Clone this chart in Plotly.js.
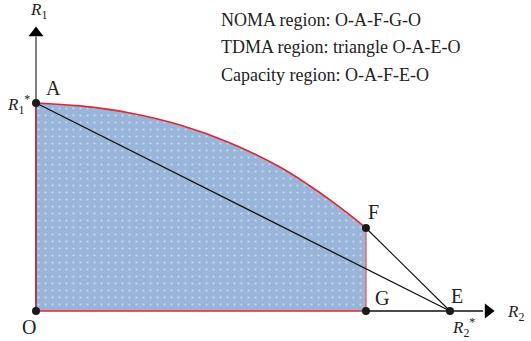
<!DOCTYPE html>
<html>
<head>
<meta charset="utf-8">
<script src="https://cdn.plot.ly/plotly-3.0.1.min.js"></script>
<style>
  html, body { margin: 0; padding: 0; background: #fff; }
  #graph { width: 531px; height: 341px; }
</style>
</head>
<body>
<div id="graph"></div>
<script>
// boundary of the NOMA region (R2, R1), normalised so that A = 1 and E = 1
const curveR2 = [0, 0.106, 0.227, 0.348, 0.469, 0.589, 0.662, 0.710, 0.758, 0.797];
const curveR1 = [1, 0.986, 0.952, 0.894, 0.808, 0.692, 0.601, 0.534, 0.462, 0.399];

// corner points O, A, F, G, E
const pointNames = ["O", "A", "F", "G", "E"];
const pointR2 = [0, 0, 0.797, 0.797, 1];
const pointR1 = [0, 1, 0.399, 0, 0];

const legendLines = [
    "NOMA region: O-A-F-G-O",
    "TDMA region: triangle O-A-E-O",
    "Capacity region: O-A-F-E-O"
];

const serif = "Liberation Serif, Times New Roman, serif";
const idx = n => pointNames.indexOf(n);
const P = n => [pointR2[idx(n)], pointR1[idx(n)]];

function seg(a, b, color, width) {
    return {
        x: [a[0], b[0]], y: [a[1], b[1]],
        mode: "lines", type: "scatter", hoverinfo: "skip",
        line: { color: color, width: width }
    };
}

const data = [];

// región sombreada bajo la curva
data.push({
    x: curveR2, y: curveR1,
    type: "scatter", mode: "lines",
    fill: "tozeroy",
    fillcolor: "#9ab5da",
    fillpattern: { shape: ".", bgcolor: "#9ab5da", fgcolor: "#c9d8ec", size: 7, solidity: 0.08 },
    line: { color: "#e3262e", width: 1.6, shape: "spline", smoothing: 1 },
    hoverinfo: "skip"
});

// ejes con flechas
data.push(seg(P("A"), [0, 1.32], "#555555", 1.5));
data.push(seg(P("G"), [1.08, 0], "#111111", 1.5));
data.push({
    x: [0, 1.092], y: [1.337, 0],
    type: "scatter", mode: "markers", hoverinfo: "skip",
    marker: { symbol: ["triangle-up", "triangle-right"], size: 13, color: "#000" }
});

// bordes rojos de la región
data.push(seg(P("O"), P("A"), "#b53a48", 2));
data.push(seg(P("O"), P("G"), "#e3262e", 1.6));
data.push(seg(P("G"), P("F"), "#ef5a60", 1.4));

// líneas TDMA y capacidad
data.push(seg(P("A"), P("E"), "#111111", 1.3));
data.push(seg(P("F"), P("E"), "#111111", 1.1));

// puntos
data.push({
    x: pointR2, y: pointR1,
    type: "scatter", mode: "markers", hoverinfo: "skip",
    marker: { color: "#1a1a1a", size: 8 }
});

const annotations = [
    { text: "A", x: 0.043, y: 1.072 },
    { text: "F", x: 0.816, y: 0.476 },
    { text: "G", x: 0.835, y: 0.063 },
    { text: "E", x: 1.017, y: 0.072 },
    { text: "O", x: -0.017, y: -0.075 },
    { text: "<i>R</i><sub>1</sub>", x: 0.005, y: 1.44, size: 17 },
    { text: "<i>R</i><sub>1</sub><sup>*</sup>", x: -0.010, y: 0.995, xanchor: "right", size: 17 },
    { text: "<i>R</i><sub>2</sub>", x: 1.157, y: -0.01, size: 17 },
    { text: "<i>R</i><sub>2</sub><sup>*</sup>", x: 1.032, y: -0.078, size: 17 }
].map(a => ({
    text: a.text, x: a.x, y: a.y, xref: "x", yref: "y",
    xanchor: a.xanchor || "center", yanchor: "middle",
    showarrow: false,
    font: { family: serif, size: a.size || 20, color: "#222" }
}));

legendLines.forEach((t, i) => {
    annotations.push({
        text: t, x: 0.443, y: [1.399, 1.267, 1.137][i],
        xref: "x", yref: "y", xanchor: "left", yanchor: "middle",
        showarrow: false,
        font: { family: serif, size: 18, color: "#222" }
    });
});

const layout = {
    width: 531, height: 341,
    margin: { l: 0, r: 0, t: 0, b: 0 },
    paper_bgcolor: "#fff", plot_bgcolor: "#fff",
    showlegend: false,
    xaxis: { range: [-0.08696, 1.19565], visible: false, fixedrange: true },
    yaxis: { range: [-0.1442, 1.4952], visible: false, fixedrange: true },
    annotations: annotations
};

Plotly.newPlot("graph", data, layout, { staticPlot: true, displayModeBar: false });
</script>
</body>
</html>
